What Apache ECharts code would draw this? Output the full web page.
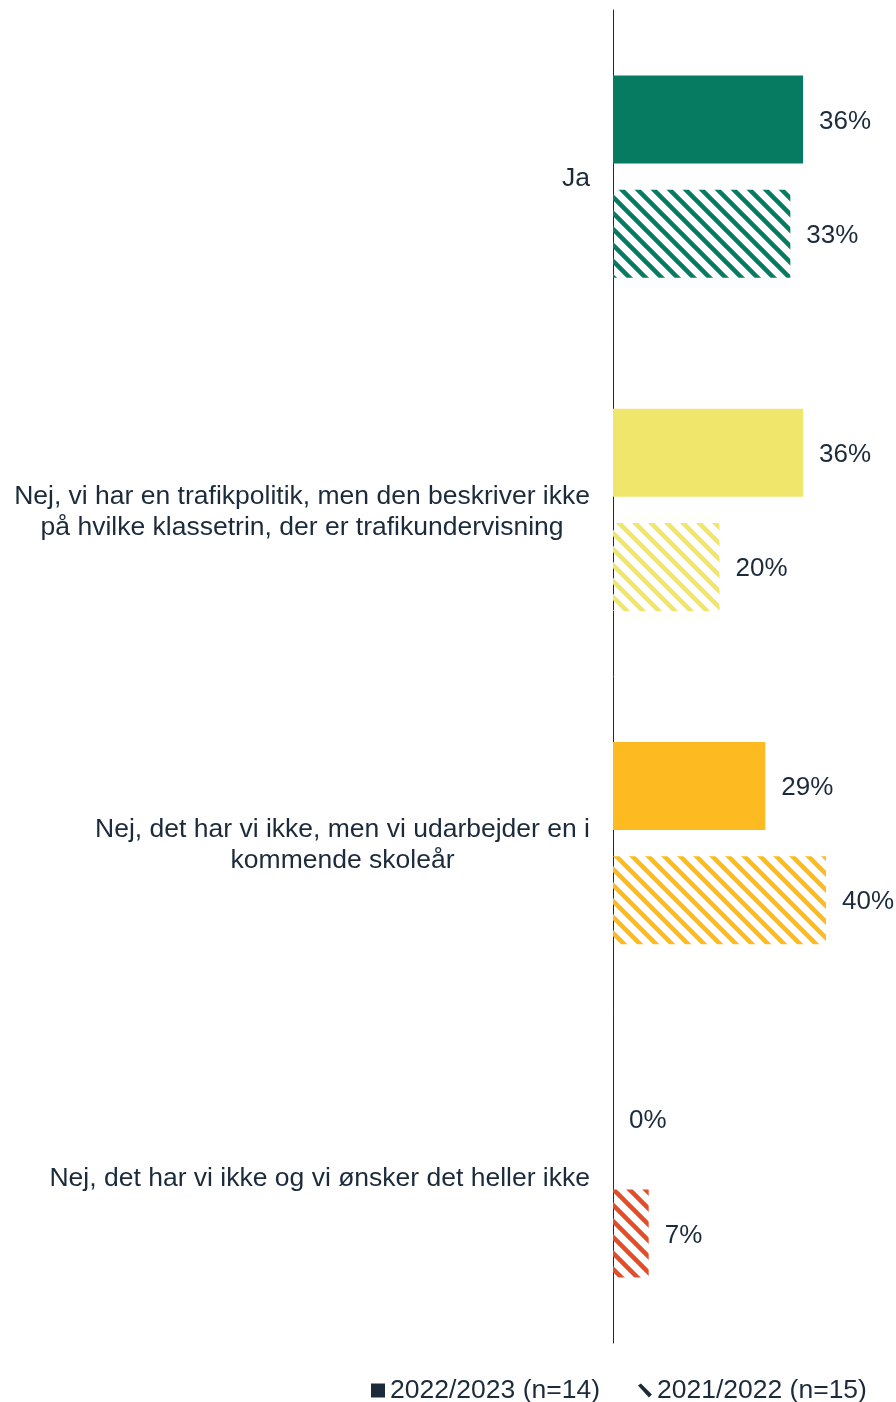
<!DOCTYPE html>
<html>
<head>
<meta charset="utf-8">
<script src="https://cdn.jsdelivr.net/npm/echarts@6/dist/echarts.min.js"></script>
<style>
  html, body { margin: 0; padding: 0; background: #fff; }
  #chart { width: 896px; height: 1402px; }
</style>
</head>
<body>
<div id="chart"></div>
<script>
// data
const categories = [
  'Ja',
  'Nej, vi har en trafikpolitik, men den beskriver ikke\npå hvilke klassetrin, der er trafikundervisning',
  'Nej, det har vi ikke, men vi udarbejder en i\nkommende skoleår',
  'Nej, det har vi ikke og vi ønsker det heller ikke'
]
const seriesNames = ['2022/2023 (n=14)', '2021/2022 (n=15)']
const values2023 = [35.7, 35.7, 28.6, 0]
const values2022 = [33.3, 20, 40, 6.7]
const colors = ['#067B61', '#EFE66B', '#FDBA21', '#E24E2A']

const textColor = '#1B2B3C'
const font = 'Arial, "Liberation Sans", sans-serif'

// diagonal "\" stripes
const hatch = (color) => {
  const c = document.createElement('canvas')
  c.width = 16; c.height = 16
  const ctx = c.getContext('2d')
  ctx.strokeStyle = color
  ctx.lineWidth = 4.5
  for (const off of [-16, 0, 16]) {
    ctx.beginPath()
    ctx.moveTo(off - 4, -4)
    ctx.lineTo(off + 20, 20)
    ctx.stroke()
  }
  return { image: c, repeat: 'repeat' }
}

const chart = echarts.init(document.getElementById('chart'))

const label = {
  show: true,
  position: 'right',
  distance: 16,
  offset: [0, 2],
  fontSize: 26,
  fontFamily: font,
  color: textColor,
  formatter: p => Math.round(p.value) + '%'
}

chart.setOption({
  animation: false,
  grid: { left: 613, right: 70, top: 10, bottom: 59 },
  legend: {
    top: 1372,
    left: 366,
    itemWidth: 14,
    itemHeight: 14,
    itemGap: 38,
    textStyle: { fontSize: 26.5, fontFamily: font, color: textColor },
    data: [
      { name: seriesNames[0], icon: 'rect', itemStyle: { color: textColor } },
      { name: seriesNames[1], icon: 'path://M0,2 L3,0 L14,11 L11,14 Z', itemStyle: { color: textColor } }
    ]
  },
  xAxis: { type: 'value', min: 0, max: 40, show: false },
  yAxis: {
    type: 'category',
    inverse: true,
    data: categories,
    axisTick: { show: false },
    axisLine: { lineStyle: { color: textColor, width: 1 } },
    axisLabel: {
      margin: 23,
      color: textColor,
      fontSize: 26.5,
      fontFamily: font,
      lineHeight: 31,
      padding: [4, 0, 0, 0],
      formatter: v => v.split('\n').map(l => '{c|' + l + '}').join('\n'),
      rich: { c: { align: 'center', fontSize: 26.5, fontFamily: font, color: textColor, lineHeight: 31 } }
    }
  },
  series: [
    {
      name: seriesNames[0],
      type: 'bar',
      barWidth: 88,
      barGap: '30%',
      label,
      data: values2023.map((v, i) => ({ value: v, itemStyle: { color: colors[i] } }))
    },
    {
      name: seriesNames[1],
      type: 'bar',
      barWidth: 88,
      barGap: '30%',
      label,
      data: values2022.map((v, i) => ({ value: v, itemStyle: { color: hatch(colors[i]) } }))
    }
  ]
})
</script>
</body>
</html>
